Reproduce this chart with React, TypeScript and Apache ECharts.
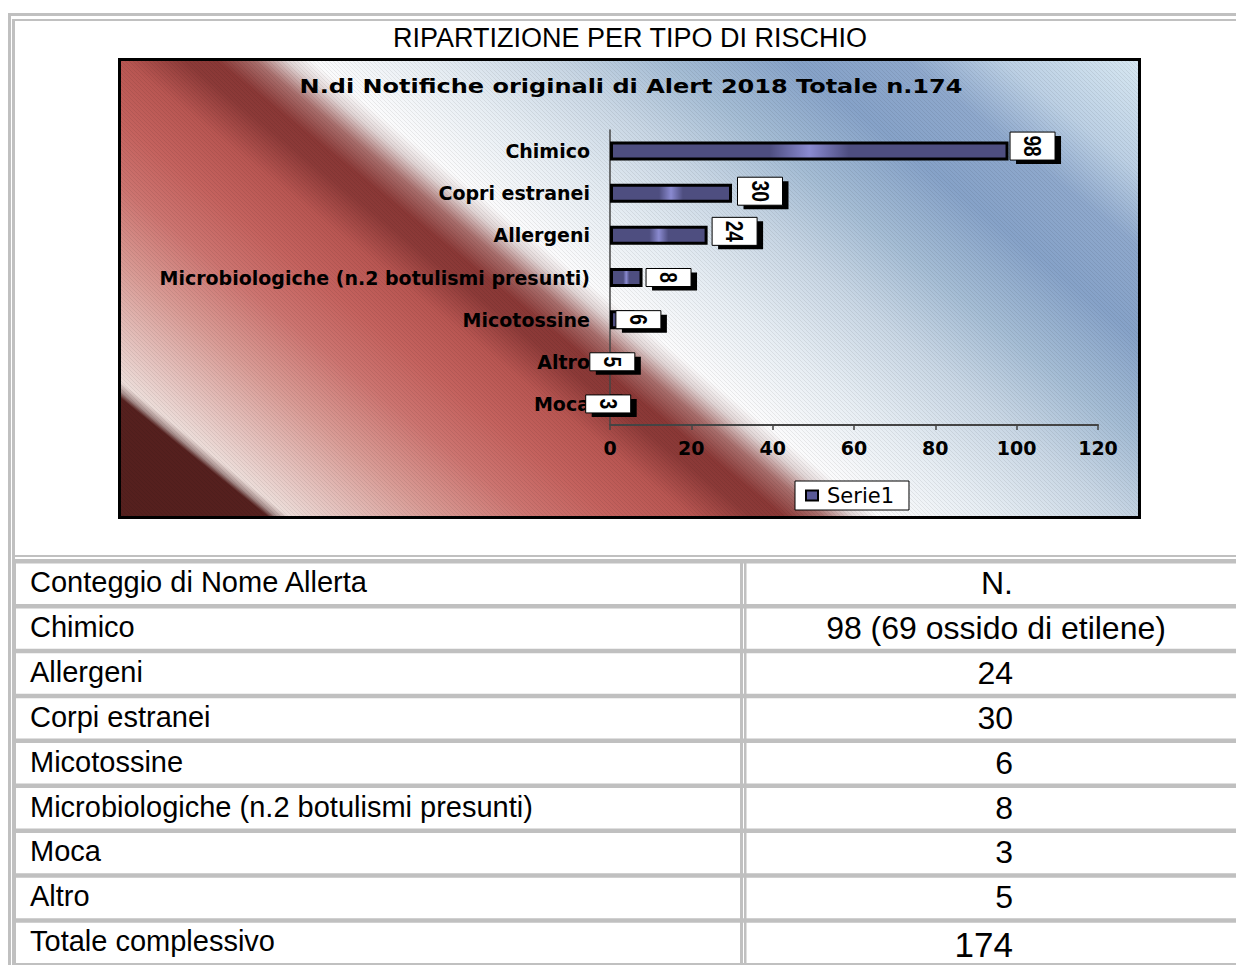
import React, { useEffect, useRef } from 'react';
import * as echarts from 'echarts';

// ---------- DATA ----------
const pageTitle = 'RIPARTIZIONE PER TIPO DI RISCHIO';
const chartTitle = 'N.di Notifiche originali di Alert 2018 Totale n.174';
const chartCategories = [
  'Chimico',
  'Copri estranei',
  'Allergeni',
  'Microbiologiche (n.2 botulismi presunti)',
  'Micotossine',
  'Altro',
  'Moca',
];
const chartValues = [98, 30, 24, 8, 6, 5, 3];
const seriesName = 'Serie1';
const xMin = 0;
const xMax = 120;
const xInterval = 20;

const tableHeader = ['Conteggio di Nome Allerta', 'N.'];
const tableLabels = [
  'Chimico',
  'Allergeni',
  'Corpi estranei',
  'Micotossine',
  'Microbiologiche (n.2 botulismi presunti)',
  'Moca',
  'Altro',
  'Totale complessivo',
];
const tableValues = ['98 (69 ossido di etilene)', '24', '30', '6', '8', '3', '5', '174'];

// ---------- STYLE / LAYOUT ----------
const GRAY = '#c0c0c0';
const labelDx = [24, 28, 27, 26, 4, -18, -14];
const labelDy = [-5, -2, -4, 0, 0, 0, 0];

function rect(x: number, y: number, w: number, h: number, fill: string, z = -2) {
  return { type: 'rect', z, silent: true, shape: { x, y, width: w, height: h }, style: { fill } };
}

function txt(text: string, x: number, y: number, size: number, align: string, opts: any = {}) {
  return {
    type: 'text',
    z: opts.z ?? -1,
    silent: true,
    x,
    y,
    scaleX: opts.scaleX ?? 1,
    style: {
      text,
      fill: '#000',
      fontSize: size,
      fontFamily: opts.family ?? '"Liberation Sans", Arial, sans-serif',
      fontWeight: opts.weight ?? 'normal',
      align,
      textAlign: align,
      verticalAlign: 'middle',
      textVerticalAlign: 'middle',
    },
  };
}

function makeHatch(): any {
  try {
    const c = document.createElement('canvas');
    c.width = 4;
    c.height = 4;
    const ctx = c.getContext('2d');
    if (!ctx) return null;
    ctx.strokeStyle = 'rgba(0,0,0,0.07)';
    ctx.lineWidth = 1;
    ctx.beginPath();
    ctx.moveTo(-1, -1);
    ctx.lineTo(5, 5);
    ctx.moveTo(-1, 3);
    ctx.lineTo(1, 5);
    ctx.moveTo(3, -1);
    ctx.lineTo(5, 1);
    ctx.stroke();
    return { image: c, repeat: 'repeat' };
  } catch (e) {
    return null;
  }
}

function buildGraphics() {
  const els: any[] = [];
  // outer table frame
  els.push(rect(8, 13, 1228, 3, GRAY));
  els.push(rect(8, 13, 3, 952, GRAY));
  // top cell border
  els.push(rect(12, 19, 1224, 2, GRAY));
  els.push(rect(12, 19, 3, 946, GRAY));
  els.push(rect(12, 555, 1224, 2, GRAY));
  // rows
  const rowTop = 559;
  const pitch = 44.9;
  const nRows = tableLabels.length + 1;
  for (let i = 0; i <= nRows; i++) {
    els.push(rect(12, rowTop + i * pitch, 1224, 4.5, GRAY));
  }
  els.push(rect(12, rowTop, 4, 965 - rowTop, GRAY));
  els.push(rect(740, rowTop, 3, 965 - rowTop, GRAY));
  els.push(rect(744, rowTop, 2.5, 965 - rowTop, GRAY));

  const rows = [tableHeader, ...tableLabels.map((l, i) => [l, tableValues[i]])];
  rows.forEach((r, i) => {
    const cy = rowTop + i * pitch + 23;
    els.push(txt(r[0], 30, cy, 29, 'left'));
    const isTotal = i === rows.length - 1;
    const size = isTotal ? 35 : 32;
    if (r[1].length > 4) els.push(txt(r[1], 996, cy + 1, size, 'center'));
    else els.push(txt(r[1], 1013, cy + (isTotal ? 3 : 1), size, 'right'));
  });

  // page title
  els.push(txt(pageTitle, 630, 38, 27, 'center'));

  // chart background
  const T = 1000;
  const gx2 = 118 + 0.6265 * T;
  const gy2 = 518 - 0.78 * T;
  const bg = new echarts.graphic.LinearGradient(
    118, 518, gx2, gy2,
    [
      { offset: 0, color: '#55201e' },
      { offset: 0.095, color: '#55201e' },
      { offset: 0.1, color: '#a48a88' },
      { offset: 0.108, color: '#ecdcd8' },
      { offset: 0.135, color: '#e6c8c4' },
      { offset: 0.2, color: '#d89a94' },
      { offset: 0.26, color: '#cc7470' },
      { offset: 0.31, color: '#c4625e' },
      { offset: 0.36, color: '#b85652' },
      { offset: 0.398, color: '#8c3a38' },
      { offset: 0.418, color: '#8a3836' },
      { offset: 0.442, color: '#a86e6c' },
      { offset: 0.462, color: '#e0d4d4' },
      { offset: 0.478, color: '#fbfbfc' },
      { offset: 0.55, color: '#e6edf3' },
      { offset: 0.63, color: '#c8d6e4' },
      { offset: 0.7, color: '#a4bcd4' },
      { offset: 0.78, color: '#86a2c8' },
      { offset: 0.85, color: '#8ea8cc' },
      { offset: 0.91, color: '#bcd0e4' },
      { offset: 1, color: '#d8e8f2' },
    ],
    true
  );
  els.push({ type: 'rect', z: -1, silent: true, shape: { x: 118, y: 58, width: 1023, height: 461 }, style: { fill: bg } });
  const hatch = makeHatch();
  if (hatch) {
    els.push({ type: 'rect', z: -1, silent: true, shape: { x: 118, y: 58, width: 1023, height: 461 }, style: { fill: hatch } });
  }
  els.push({
    type: 'rect', z: 20, silent: true,
    shape: { x: 119.5, y: 59.5, width: 1020, height: 458 },
    style: { fill: 'none', stroke: '#000', lineWidth: 3 },
  });
  els.push(txt(chartTitle, 631, 86, 20, 'center', { weight: 'bold', family: '"DejaVu Sans", sans-serif', scaleX: 1.2, z: 1 }));
  return els;
}

const barFill = new echarts.graphic.LinearGradient(0, 0, 1, 0, [
  { offset: 0, color: '#4e4e80' },
  { offset: 0.4, color: '#4e4e80' },
  { offset: 0.5, color: '#8a8ad0' },
  { offset: 0.6, color: '#4e4e80' },
  { offset: 1, color: '#4e4e80' },
]);

const axisFont = { fontFamily: '"DejaVu Sans", sans-serif', fontWeight: 'bold' as const, fontSize: 19, color: '#000' };

export default function App() {
  const ref = useRef<HTMLDivElement>(null);
  useEffect(() => {
    const chart = echarts.init(ref.current!, null, { renderer: 'svg' });
    const option: any = {
      animation: false,
      backgroundColor: '#ffffff',
      graphic: { elements: buildGraphics() },
      grid: { left: 610, top: 130, width: 488, height: 295, containLabel: false },
      legend: {
        data: [seriesName],
        left: 795,
        top: 481,
        backgroundColor: '#ffffff',
        borderColor: '#000',
        borderWidth: 1,
        padding: [4, 15, 4, 10],
        itemWidth: 12,
        itemHeight: 10,
        icon: 'rect',
        itemStyle: { color: '#5a5a98', borderColor: '#000', borderWidth: 2 },
        textStyle: { fontFamily: '"DejaVu Sans", sans-serif', fontSize: 21, color: '#000', padding: [0, 0, 0, 4] },
        z: 10,
      },
      xAxis: {
        type: 'value',
        min: xMin,
        max: xMax,
        interval: xInterval,
        z: 3,
        splitLine: { show: false },
        axisLine: { show: true, lineStyle: { color: '#444', width: 2 } },
        axisTick: { show: true, length: 5, lineStyle: { color: '#444', width: 1.5 } },
        axisLabel: { ...axisFont, margin: 13 },
      },
      yAxis: {
        type: 'category',
        inverse: true,
        data: chartCategories,
        z: 3,
        axisLine: { show: true, lineStyle: { color: '#444', width: 1.5 } },
        axisTick: { show: false },
        axisLabel: { ...axisFont, margin: 20 },
      },
      series: [
        {
          name: seriesName,
          type: 'bar',
          data: chartValues,
          barWidth: 19,
          z: 4,
          itemStyle: { color: barFill, borderColor: '#000', borderWidth: 3 },
        },
        {
          name: 'labels',
          type: 'custom',
          z: 6,
          clip: false,
          data: chartValues.map((v, i) => [v, i]),
          encode: { x: 0, y: 1 },
          renderItem: (params: any, api: any) => {
            const v = api.value(0);
            const i = api.value(1);
            const p = api.coord([v, i]);
            const s = String(v);
            const w = 45;
            const h = 8 + 10 * s.length;
            const cx = p[0] + labelDx[i];
            const cy = p[1] + labelDy[i];
            return {
              type: 'group',
              children: [
                { type: 'rect', shape: { x: cx - w / 2 + 6, y: cy - h / 2 + 4, width: w, height: h }, style: { fill: '#000' } },
                { type: 'rect', shape: { x: cx - w / 2, y: cy - h / 2, width: w, height: h }, style: { fill: '#fff', stroke: '#000', lineWidth: 1 } },
                {
                  type: 'text',
                  x: cx,
                  y: cy,
                  rotation: -Math.PI / 2,
                  scaleX: 0.8,
                  style: {
                    text: s,
                    fill: '#000',
                    fontSize: 24,
                    fontWeight: 'bold',
                    fontFamily: '"Liberation Sans", Arial, sans-serif',
                    align: 'center',
                    verticalAlign: 'middle',
                  },
                },
              ],
            };
          },
        },
      ],
    };
    chart.setOption(option);
    return () => chart.dispose();
  }, []);
  return <div ref={ref} style={{ position: 'absolute', left: 0, top: 0, width: 1236, height: 965 }} />;
}
